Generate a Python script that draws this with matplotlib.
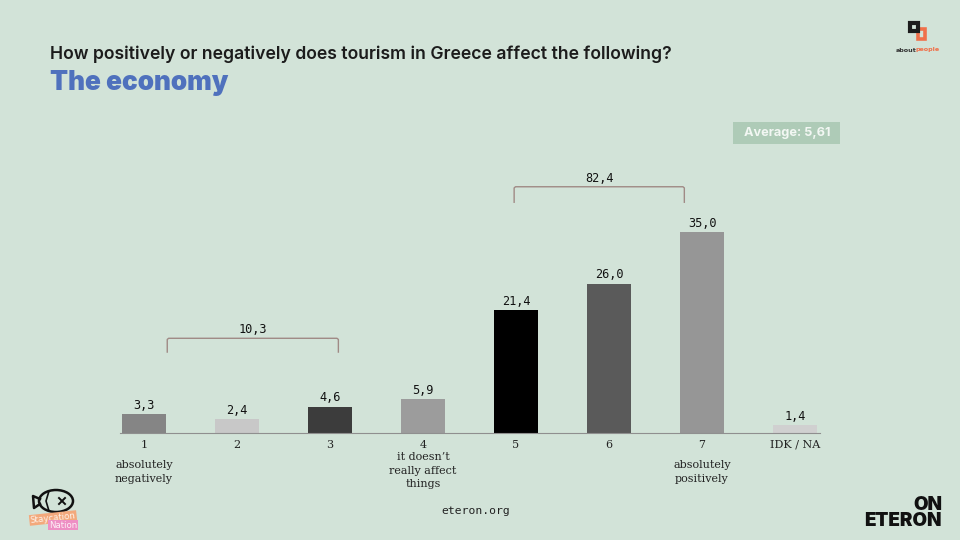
'''How tourism in Greece affects the economy, survey answers as a bar chart'''
# Importing libraries
import numpy as np
import matplotlib.pyplot as plt
from matplotlib.patches import Ellipse, Rectangle

# Chart data
categories = ['1', '2', '3', '4', '5', '6', '7', 'IDK / NA']
values = [3.3, 2.4, 4.6, 5.9, 21.4, 26.0, 35.0, 1.4]
bar_colors = ['#858585', '#c8c8c8', '#3c3c3c', '#9c9c9c', '#000000', '#5a5a5a', '#969696', '#d0d0d0']
scale_notes = {0: 'absolutely\nnegatively', 3: 'it doesn\u2019t\nreally affect\nthings', 6: 'absolutely\npositively'}
group_labels = ['10,3', '82,4']
title = 'How positively or negatively does tourism in Greece affect the following?'
subtitle = 'The economy'
average = 'Average: 5,61'

bg = '#d2e3d8'
x = np.arange(len(categories))

plt.figure(figsize=(9.6, 5.4), dpi=100, facecolor=bg)

# Overlay in pixels for the headings and the logos
plt.axes([0, 0, 1, 1])
plt.xlim(0, 960)
plt.ylim(540, 0)
plt.axis('off')
plt.text(50, 54, title, fontsize=12.7, family='Inter', weight='semibold', color='#1c1c1c', va='center')
plt.text(50, 82.5, subtitle, fontsize=18.9, family='Inter', weight='black', color='#4f71bd', va='center')
plt.gca().add_patch(Rectangle((733, 122), 107, 22, fc='#aecbb7', ec='none', zorder=1))
plt.text(787, 133, average, fontsize=9.2, family='Inter', weight='bold', color='#f2f7f3', va='center', ha='center')
plt.text(476, 511, 'eteron.org', fontsize=8.2, family='DejaVu Sans Mono', color='#222222', ha='center', va='center')

# Logo, about people
plt.gca().add_patch(Rectangle((918, 29), 7, 10, fc='none', ec='#f0704a', lw=2.6))
plt.gca().add_patch(Rectangle((910, 23), 7.5, 7.5, fc='none', ec='#1c1c1c', lw=3))
plt.text(906, 50, 'about', fontsize=4.6, weight='bold', color='#333333', ha='center', va='center')
plt.text(928, 50, 'people', fontsize=4.6, weight='bold', color='#f0704a', ha='center', va='center')

# Logo, on eteron
plt.text(942, 513, 'ON\nETERON', fontsize=13.6, family='Inter', weight='black', color='#111111', ha='right',
         va='center', multialignment='right', linespacing=0.85)

# Logo, fish
plt.gca().add_patch(Ellipse((56, 501), 34, 22, fc='none', ec='#111111', lw=1.8))
plt.plot([40, 33, 34, 40], [499, 496, 508, 504], color='#111111', lw=1.8)
plt.plot([49, 46, 49], [491, 501, 511], color='#111111', lw=1.2)
plt.plot([59, 65], [498, 504], color='#111111', lw=1.4)
plt.plot([65, 59], [498, 504], color='#111111', lw=1.4)
plt.text(53, 518, 'Staycation', fontsize=6.2, color='#fdf3ea', ha='center', va='center', rotation=6,
         bbox=dict(boxstyle='square,pad=0.1', fc='#f3a97c', ec='none'))
plt.text(63, 525, 'Nation', fontsize=6.2, color='#fdf0f6', ha='center', va='center',
         bbox=dict(boxstyle='square,pad=0.1', fc='#ee8fc4', ec='none'))

# Bars
plt.axes([120 / 960, 107 / 540, 700 / 960, 300 / 540], facecolor='none')
plt.bar(x, values, width=0.475, color=bar_colors)
for i, v in enumerate(values):
    plt.text(i, v + 0.4, f'{v:.1f}'.replace('.', ','), fontsize=8.6, family='DejaVu Sans Mono', color='#111111',
             ha='center', va='bottom')
plt.xlim(-24 / 93, 676 / 93)
plt.ylim(0, 300 / 5.74)
plt.yticks([])
plt.xticks(x, categories, fontsize=8, family='DejaVu Serif', color='#222222')
plt.tick_params(axis='x', length=0, pad=5)
for side in ['top', 'right', 'left']:
    plt.gca().spines[side].set_visible(False)
plt.gca().spines['bottom'].set_color('#8f8f8f')

# Notes under the scale
for i, note in scale_notes.items():
    top = -3.3 if i == 3 else -4.7
    plt.text(i, top, note, fontsize=8, family='DejaVu Serif', color='#222222', ha='center', va='top',
             linespacing=1.45, clip_on=False)

# Brackets over the groups
for label, start, end, low, high in zip(group_labels, [0.25, 3.98], [2.09, 5.81], [14.1, 40.2], [16.5, 42.9]):
    plt.plot([start, start, start + 0.015, end - 0.015, end, end], [low, high - 0.2, high, high, high - 0.2, low],
             color='#a08a85', lw=1)
    plt.text((start + end) / 2, high + 0.35, label, fontsize=8.6, family='DejaVu Sans Mono', color='#111111',
             ha='center', va='bottom')

plt.savefig('out.png', dpi=100, facecolor=bg)
